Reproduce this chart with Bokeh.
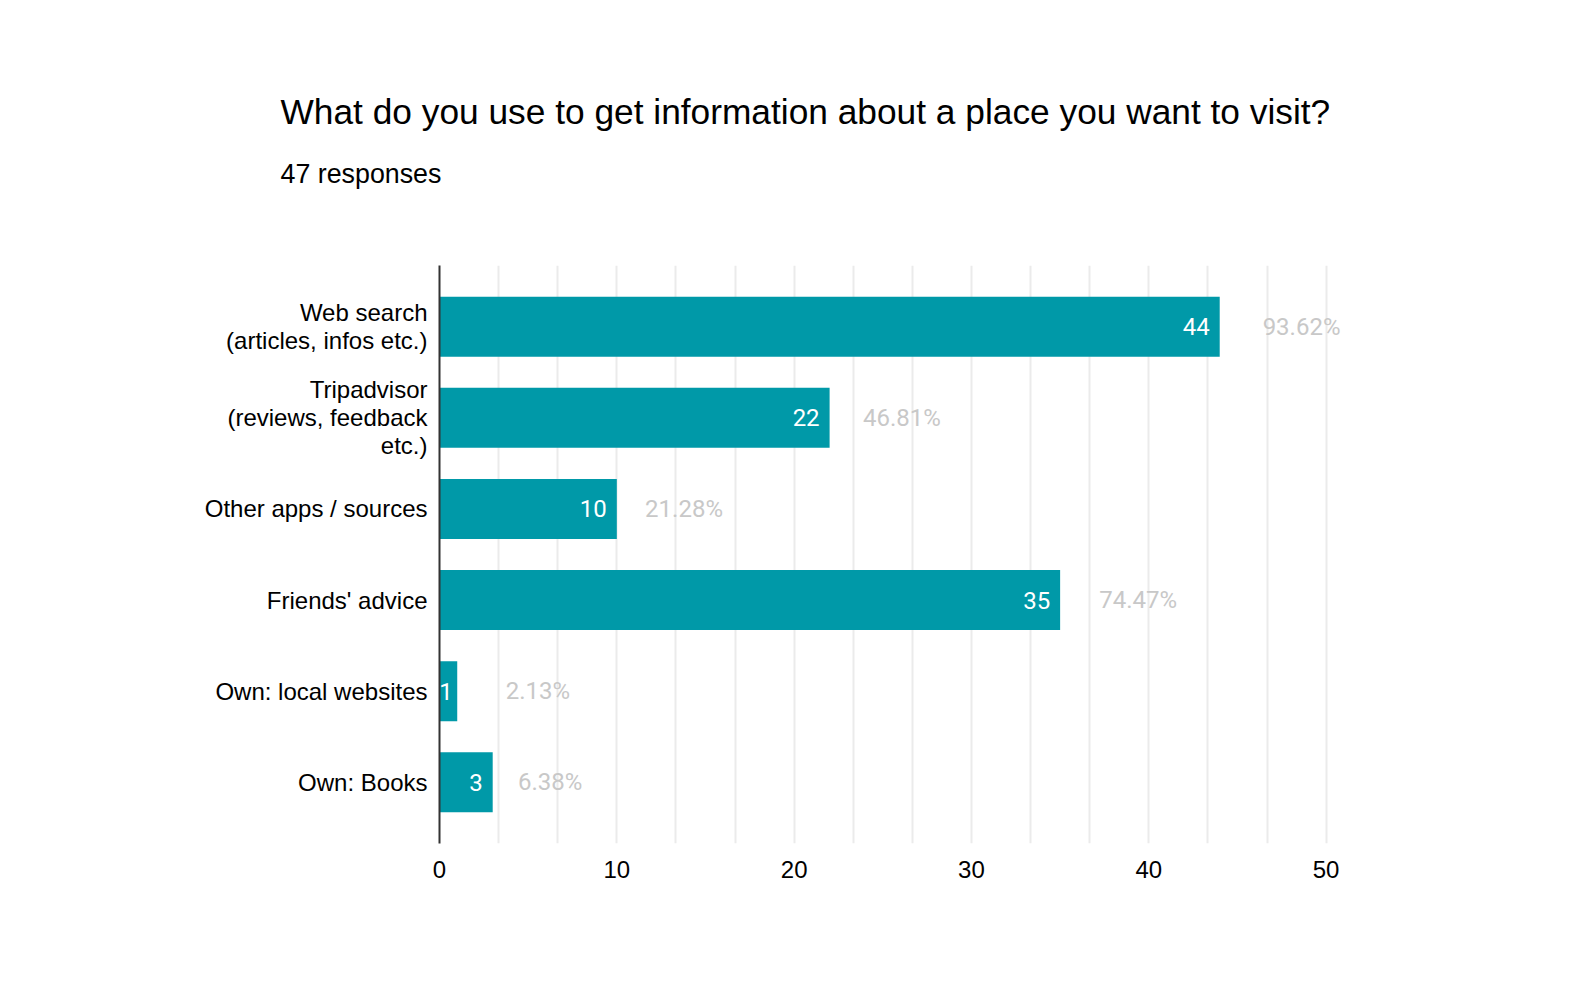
from bokeh.plotting import figure
from bokeh.models import (ColumnDataSource, Range1d, FixedTicker, Grid, Title,
                          LabelSet)
from bokeh.core.properties import value
from bokeh.embed import file_html
from bokeh.resources import INLINE

# ---- data ----
categories = [
    "Web search\n(articles, infos etc.)",
    "Tripadvisor\n(reviews, feedback\netc.)",
    "Other apps / sources",
    "Friends' advice",
    "Own: local websites",
    "Own: Books",
]
counts = [44, 22, 10, 35, 1, 3]
percents = ["93.62%", "46.81%", "21.28%", "74.47%", "2.13%", "6.38%"]
x_ticks = [0, 10, 20, 30, 40, 50]
title_text = "What do you use to get information about a place you want to visit?"
subtitle_text = "47 responses"

BAR = "#0099a8"
W, H = 1580, 985
X_MAX = 50
X_VIEW = 56          # frame extends past the last tick so outside labels are not clipped
px_per_unit = 886.5 / X_MAX
FL = 439
frame_w = px_per_unit * X_VIEW
FR = W - FL - frame_w
FT, FB = 265, H - 843

n = len(categories)
ys = list(range(n))
DIGIT_W = 13.5
val_off, pct_off = [], []
for c in counts:
    bar_px = c * px_per_unit
    fits = bar_px >= DIGIT_W * len(str(c)) + 10
    val_off.append(-min(10.0, 0.25 * bar_px))
    pct_off.append(24 + 0.43 * c + (0 if fits else 24))
src = ColumnDataSource(dict(y=ys, count=counts, label=[str(c) for c in counts],
                            pct=percents, voff=val_off, poff=pct_off))

pad = 0.172
p = figure(width=W, height=H, output_backend="svg", toolbar_location=None,
           x_range=Range1d(0, X_VIEW), y_range=Range1d(n - 0.5 + pad, -0.5 - pad),
           min_border_left=FL, min_border_right=int(round(FR)), min_border_top=FT,
           min_border_bottom=FB)
p.outline_line_color = None
p.background_fill_color = "white"
p.border_fill_color = "white"

# spacer between plot area and the subtitle
p.add_layout(Title(text=" ", text_font_size="1px", standoff=64), "above")
p.add_layout(Title(text=subtitle_text, align="left", offset=-159,
                   text_font="Liberation Sans", text_font_size="26.8px",
                   text_font_style="normal", text_color="#000000",
                   standoff=20), "above")
p.add_layout(Title(text=title_text, align="left", offset=-159,
                   text_font="Liberation Sans", text_font_size="35.3px",
                   text_font_style="normal", text_color="#000000",
                   standoff=31), "above")

# grid
p.xgrid.visible = False
p.ygrid.visible = False
grid_ticks = [k * 10 / 3 for k in range(1, 16)]
p.add_layout(Grid(dimension=0, ticker=FixedTicker(ticks=grid_ticks),
                  grid_line_color="#ebebeb", grid_line_width=2))

p.hbar(y="y", right="count", left=0, height=0.658, source=src,
       fill_color=BAR, line_color=None)

p.add_layout(LabelSet(x="count", y="y", text="label", source=src,
                      x_offset="voff", text_align="right",
                      text_baseline="middle", text_color="white",
                      text_font=value("Roboto"), text_font_size="24px"))
p.add_layout(LabelSet(x="count", y="y", text="pct", source=src,
                      x_offset="poff", text_align="left",
                      text_baseline="middle", text_color="#c8c8c8",
                      text_font=value("Roboto"), text_font_size="24px"))

# x axis
xa = p.xaxis[0]
xa.ticker = FixedTicker(ticks=x_ticks)
xa.axis_line_color = None
xa.major_tick_line_color = None
xa.minor_tick_line_color = None
xa.major_label_text_font = "Liberation Sans"
xa.major_label_text_font_size = "24px"
xa.major_label_text_color = "#000000"
xa.major_label_standoff = 11

# y axis
ya = p.yaxis[0]
ya.ticker = FixedTicker(ticks=ys)
ya.major_label_overrides = {i: c for i, c in enumerate(categories)}
ya.axis_line_color = "#333333"
ya.axis_line_width = 2
ya.major_tick_line_color = None
ya.minor_tick_line_color = None
ya.major_tick_out = 0
ya.major_tick_in = 0
ya.major_label_standoff = 12
ya.major_label_text_font = "Liberation Sans"
ya.major_label_text_font_size = "24px"
ya.major_label_text_color = "#000000"
ya.major_label_text_line_height = 1.04

open("out.html", "w").write(file_html(p, INLINE))
